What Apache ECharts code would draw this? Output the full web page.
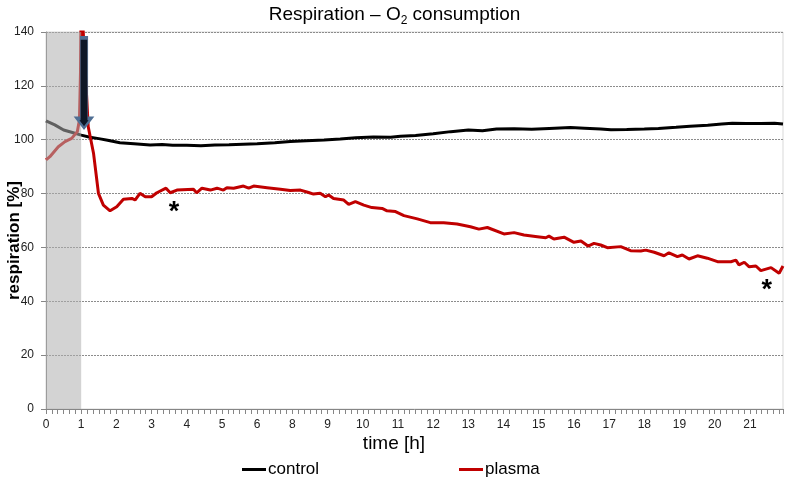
<!DOCTYPE html>
<html>
<head>
<meta charset="utf-8">
<script src="https://cdn.jsdelivr.net/npm/echarts@6/dist/echarts.min.js"></script>
<style>html,body{margin:0;padding:0;background:#fff}#c{width:789px;height:481px}</style>
</head>
<body>
<div id="c"></div>
<script>
// x positions are axis positions (one unit per labelled tick)
const xLabels = ['0','1','2','3','4','5','6','8','9','10','11','12','13','14','15','16','17','18','19','20','21'];
const yTicks = [0,20,40,60,80,100,120,140];

const controlX = [0,0.25,0.5,0.75,1.0,1.25,1.5,1.75,2.1,2.5,2.96,3.3,3.6,4.0,4.4,4.8,5.2,5.6,6.0,6.5,6.94,7.4,7.9,8.36,8.8,9.3,9.79,10.07,10.5,11.0,11.5,12.0,12.4,12.8,13.3,13.8,14.3,14.9,15.3,15.76,16.05,16.5,17.0,17.4,17.9,18.3,18.8,19.2,19.5,19.9,20.3,20.7,20.94];
const controlY = [107,105.5,103.6,102.7,101.7,100.9,100.4,99.8,98.9,98.5,98.0,98.2,97.9,97.9,97.8,98.0,98.1,98.3,98.5,98.9,99.3,99.6,99.9,100.3,100.7,101.0,100.9,101.3,101.6,102.2,103.0,103.6,103.3,104.0,104.1,103.9,104.2,104.5,104.3,104.0,103.7,103.8,104.0,104.2,104.6,105.0,105.4,105.8,106.1,106.0,106.0,106.1,105.8];

const plasmaX = [0,0.11,0.35,0.54,0.73,0.89,0.95,0.98,1.0,1.05,1.2,1.35,1.49,1.63,1.82,2.01,2.2,2.44,2.53,2.67,2.82,3.0,3.15,3.41,3.53,3.72,4.19,4.28,4.43,4.67,4.86,5.04,5.14,5.33,5.61,5.76,5.9,6.28,6.66,6.94,7.23,7.46,7.6,7.79,7.94,8.03,8.17,8.46,8.6,8.79,9.03,9.26,9.55,9.69,9.93,10.17,10.55,10.92,11.3,11.68,12.06,12.3,12.54,13.01,13.3,13.58,13.96,14.2,14.29,14.43,14.72,15.0,15.2,15.4,15.57,15.76,15.95,16.33,16.61,16.9,17.04,17.28,17.56,17.7,17.94,18.08,18.27,18.51,18.79,19.08,19.46,19.6,19.69,19.84,19.98,20.17,20.31,20.6,20.83,20.94];
const plasmaY = [92.5,93.7,97.4,99.3,100.5,103,107.3,125,155,142,104.8,95,80.1,75.7,73.6,75.1,77.9,78.2,77.6,80.1,78.8,78.8,80.3,82,80.3,81.3,81.6,80.3,82,81.3,82,81.3,82.2,82,82.8,82,82.8,82.2,81.6,81.1,81.3,80.4,79.8,80.1,78.8,79.5,78.2,77.6,76,77,75.7,74.8,74.5,73.6,73.3,71.8,70.6,69.2,69.2,68.7,67.7,66.8,67.4,65,65.5,64.6,64,63.6,64.2,63.1,63.8,61.9,62.4,60.5,61.5,60.9,59.9,60.3,58.8,58.7,59,58.2,56.9,58,56.6,57.2,55.7,56.9,56,54.7,54.7,55.3,53.5,54.5,52.8,53.1,51.4,52.5,50.4,53.1];

// annotations (data units)
const bandRange = [0, 1];
const arrowX = 1.08, arrowTop = 137.8, arrowTip = 104.3;
const stars = [[3.64, 75.5], [20.48, 46.5]];

const FONT = "'Liberation Sans', Arial, sans-serif";
const zip = (a, b) => a.map((v, i) => [v, b[i]]);

const chart = echarts.init(document.getElementById('c'), null, {renderer: 'canvas'});
// pixel height of the arrow, derived from the axis scale after init
const arrowPx = () => {
  const a = chart.convertToPixel({gridIndex: 0}, [arrowX, arrowTop]);
  const b = chart.convertToPixel({gridIndex: 0}, [arrowX, arrowTip]);
  return Math.abs(b[1] - a[1]);
};

const option = {
  animation: false,
  backgroundColor: '#fff',
  textStyle: {fontFamily: FONT},
  title: {
    text: '{a|Respiration – O}{s|2}{a| consumption}',
    left: 'center', top: 3, padding: 0,
    textStyle: {
      fontWeight: 'normal',
      rich: {
        a: {fontFamily: FONT, fontSize: 19, fontWeight: 'normal', color: '#000', lineHeight: 24},
        s: {fontFamily: FONT, fontSize: 12, fontWeight: 'normal', color: '#000', verticalAlign: 'bottom', lineHeight: 14}
      }
    }
  },
  legend: {
    data: ['control', 'plasma'],
    left: 237, top: 456,
    icon: 'rect', itemWidth: 24, itemHeight: 3, itemGap: 140,
    textStyle: {fontFamily: FONT, fontSize: 17, color: '#000', padding: [0,0,0,-3]}
  },
  grid: {left: 46, right: 6, top: 32, bottom: 72, containLabel: false, outerBoundsMode: 'none',
    show: true, borderColor: '#d9d9d9', borderWidth: 1, backgroundColor: 'transparent'},
  xAxis: {
    type: 'value', min: 0, max: 20.94, interval: 1,
    name: 'time [h]', nameLocation: 'middle', nameGap: 25, nameMoveOverlap: false,
    nameTextStyle: {fontFamily: FONT, fontSize: 19, color: '#000', padding: [0, 41, 0, 0]},
    axisLine: {show: true, lineStyle: {color: '#868686', width: 1}},
    axisTick: {show: true, length: 5, inside: false, lineStyle: {color: '#868686'}},
    minorTick: {show: true, splitNumber: 6, length: 5, lineStyle: {color: '#868686'}},
    axisLabel: {fontFamily: FONT, fontSize: 12, color: '#222', margin: 10,
      formatter: v => { const i = Math.round(v); return Math.abs(v - i) < 1e-6 && xLabels[i] !== undefined ? xLabels[i] : ''; }},
    splitLine: {show: false}
  },
  yAxis: {
    type: 'value', min: 0, max: 140, interval: 20,
    name: 'respiration [%]', nameLocation: 'middle', nameGap: 23, nameMoveOverlap: false,
    nameTextStyle: {fontFamily: FONT, fontSize: 17, fontWeight: 'bold', color: '#000', padding: [0, 40, 0, 0]},
    axisLine: {show: true, lineStyle: {color: '#868686', width: 1}},
    axisTick: {show: true, length: 5, lineStyle: {color: '#868686'}},
    axisLabel: {fontFamily: FONT, fontSize: 12, color: '#222', margin: 12,
      formatter: v => yTicks.includes(v) ? String(v) : ''},
    splitLine: {show: true, lineStyle: {color: '#8c8c8c', type: [2, 1], width: 1}}
  },
  series: [
    {
      name: 'control', type: 'line', data: zip(controlX, controlY),
      showSymbol: false, symbol: 'none', z: 2,
      lineStyle: {color: '#000', width: 3}, itemStyle: {color: '#000'}
    },
    {
      name: 'plasma', type: 'line', data: zip(plasmaX, plasmaY),
      showSymbol: false, symbol: 'none', z: 3,
      lineStyle: {color: '#c00000', width: 3}, itemStyle: {color: '#c00000'},
      markPoint: {
        z: 12, symbol: 'circle', symbolSize: 1,
        itemStyle: {color: 'rgba(0,0,0,0)'},
        label: {show: true, position: 'inside', formatter: '*', fontFamily: FONT, fontSize: 27, fontWeight: 'bold', color: '#000', offset: [0, 7]},
        data: stars.map(s => ({coord: s}))
      }
    },
    {
      name: 'band', type: 'line', data: [], z: 10, silent: true,
      markArea: {
        z: 10, silent: true,
        itemStyle: {color: 'rgba(175,175,175,0.55)'},
        data: [[{xAxis: bandRange[0]}, {xAxis: bandRange[1]}]]
      }
    }
  ]
};
chart.setOption(option);

// block arrow as a markPoint centred between top and tip
const h = arrowPx();
chart.setOption({
  series: [{}, {}, {
    name: 'band',
    markPoint: {
      z: 13, silent: true,
      symbol: 'path://M4,0 L12,0 L12,82 L16,82 L8,92 L0,82 L4,82 Z',
      symbolKeepAspect: false,
      symbolSize: [15, h],
      itemStyle: {color: '#0e1726', borderColor: '#4f6e93', borderWidth: 1.5},
      label: {show: false},
      data: [{coord: [arrowX, (arrowTop + arrowTip) / 2]}]
    }
  }]
});
</script>
</body>
</html>
